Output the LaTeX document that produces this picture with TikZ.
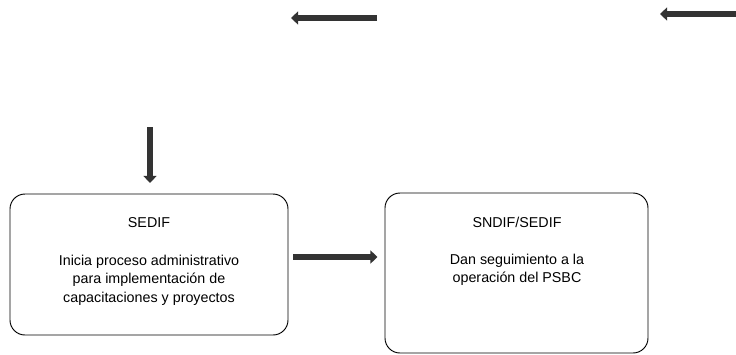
\documentclass[tikz,border=0pt]{standalone}
\usepackage{fontspec}
\setmainfont{Liberation Sans}
\usetikzlibrary{arrows.meta}
\begin{document}
\begin{tikzpicture}[x=0.03cm,y=-0.03cm,
  box/.style={draw,rounded corners=0.45cm,line width=0.8pt},
  txt/.style={font=\fontsize{12.2}{15.8}\selectfont,align=center,inner sep=0pt},
  fatarrow/.style={draw=black!80,line width=4.5pt,-{Triangle[length=6pt,width=11pt]}}]
\useasboundingbox (0,0) rectangle (736,354);
% boxes
\node[box,minimum width=8.34cm,minimum height=4.23cm] (s1) at (149,264.5) {};
\node[box,minimum width=7.89cm,minimum height=4.8cm] (s2) at (516.5,273) {};
\node[txt] (h1) at (149,223) {SEDIF};
\node[txt] (t1) at (149,280) {Inicia proceso administrativo\\para implementaci\'on de\\capacitaciones y proyectos};
\node[txt] (h2) at (517,222) {SNDIF/SEDIF};
\node[txt] (t2) at (517,270) {Dan seguimiento a la\\operaci\'on del PSBC};
% free arrow ends
\coordinate (inA) at (150,127);
\coordinate (mid) at (340,257);
\coordinate (a1) at (377,18);
\coordinate (b1) at (291,18);
\coordinate (a2) at (736,14);
\coordinate (b2) at (660,14);

\draw[fatarrow,shorten >=9pt] (inA) -- (inA |- s1.north);
\draw[fatarrow,shorten <=4pt,shorten >=6pt] (s1.east |- mid) -- (s2.west |- mid);
\draw[fatarrow] (a1) -- (b1);
\draw[fatarrow] (a2) -- (b2);

\end{tikzpicture}
\end{document}
